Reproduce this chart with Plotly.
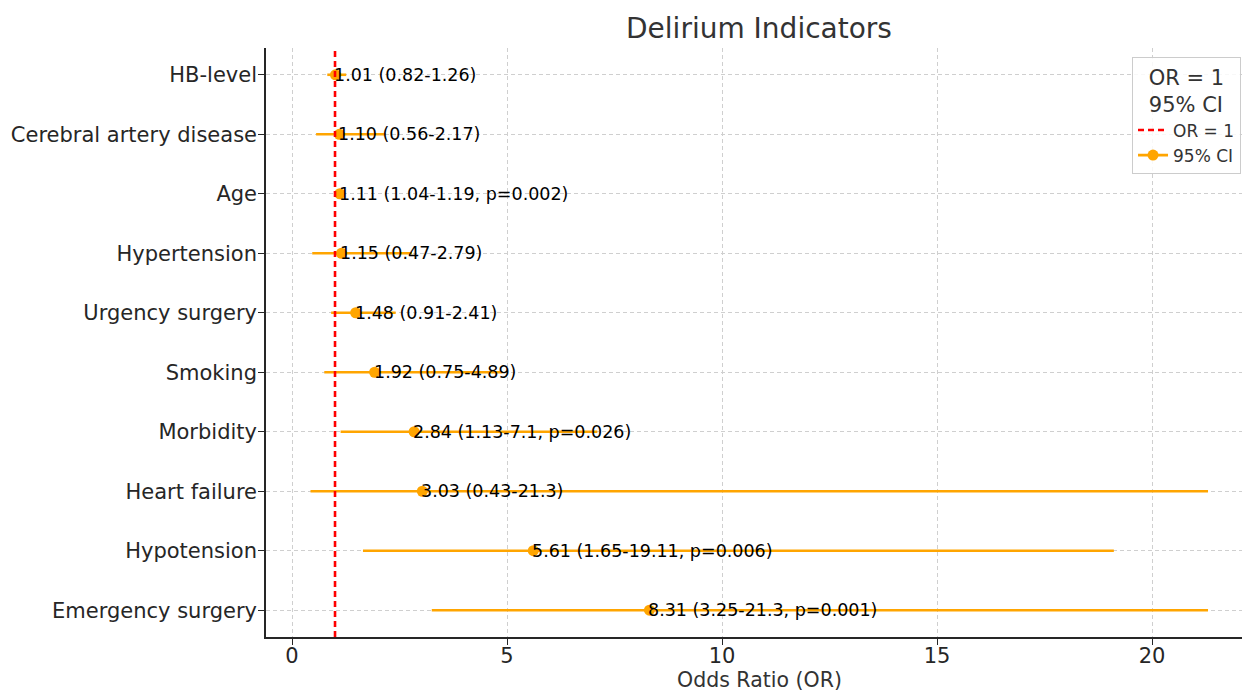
import plotly.graph_objects as go

categories = ["HB-level", "Cerebral artery disease", "Age", "Hypertension", "Urgency surgery",
              "Smoking", "Morbidity", "Heart failure", "Hypotension", "Emergency surgery"]
odds = [1.01, 1.10, 1.11, 1.15, 1.48, 1.92, 2.84, 3.03, 5.61, 8.31]
ci_low = [0.82, 0.56, 1.04, 0.47, 0.91, 0.75, 1.13, 0.43, 1.65, 3.25]
ci_high = [1.26, 2.17, 1.19, 2.79, 2.41, 4.89, 7.1, 21.3, 19.11, 21.3]
labels = ["1.01 (0.82-1.26)", "1.10 (0.56-2.17)", "1.11 (1.04-1.19, p=0.002)", "1.15 (0.47-2.79)",
          "1.48 (0.91-2.41)", "1.92 (0.75-4.89)", "2.84 (1.13-7.1, p=0.026)", "3.03 (0.43-21.3)",
          "5.61 (1.65-19.11, p=0.006)", "8.31 (3.25-21.3, p=0.001)"]
x_ticks = [0, 5, 10, 15, 20]

FONT = "DejaVu Sans"
ORANGE = "#FFA500"
TXT = "#262626"

fig = go.Figure()

fig.add_trace(go.Scatter(
    x=odds, y=categories, mode="markers",
    marker=dict(color=ORANGE, size=11),
    error_x=dict(type="data", symmetric=False,
                 array=[h - o for h, o in zip(ci_high, odds)],
                 arrayminus=[o - l for o, l in zip(odds, ci_low)],
                 color=ORANGE, thickness=2.6, width=0),
    showlegend=False, hoverinfo="skip"))

# reference line at OR = 1
fig.add_vline(x=1, line=dict(color="red", width=2.6, dash="6px,4px"), layer="above")

# legend entries
fig.add_trace(go.Scatter(x=[None], y=[None], mode="lines", name="OR = 1",
                         line=dict(color="red", width=2.6, dash="6px,4px")))
fig.add_trace(go.Scatter(x=[None], y=[None], mode="lines+markers", name="95% CI",
                         line=dict(color=ORANGE, width=2.6),
                         marker=dict(color=ORANGE, size=11)))

for c, o, t in zip(categories, odds, labels):
    fig.add_annotation(x=o, y=c, text=t, showarrow=False, xanchor="left", yanchor="middle",
                       xshift=-3, font=dict(family=FONT, size=17.5, color="black"))

# x axis title placed explicitly
fig.add_annotation(text="Odds Ratio (OR)", xref="paper", yref="paper",
                   x=(759 - 266) / 976, y=-(680 - 637) / 589, xanchor="center", yanchor="middle",
                   showarrow=False, font=dict(family=FONT, size=20.5, color="#333333"))

fig.update_layout(
    width=1242, height=691,
    margin=dict(l=266, r=0, t=48, b=54),
    paper_bgcolor="white", plot_bgcolor="white",
    font=dict(family=FONT, color=TXT),
    title=dict(text="Delirium Indicators", x=(759 / 1242), xanchor="center",
               y=1 - 28 / 691, yanchor="middle",
               font=dict(family=FONT, size=28, color="#333333")),
    legend=dict(title=dict(text="OR = 1<br>95% CI", side="top center",
                           font=dict(family=FONT, size=21, color="#333333")),
                x=0.999, xanchor="right", y=0.985, yanchor="top",
                bordercolor="#cccccc", borderwidth=1, bgcolor="rgba(255,255,255,0.85)",
                tracegroupgap=0,
                font=dict(family=FONT, size=17, color="#333333")),
)

fig.update_xaxes(range=[-0.605, 22.09], tickvals=x_ticks, ticks="outside", ticklen=6,
                 tickcolor=TXT, tickwidth=1.3, ticklabelstandoff=-7,
                 showline=True, linecolor=TXT, linewidth=1.6,
                 showgrid=True, gridcolor="#cfcfcf", griddash="4px,3px", gridwidth=1,
                 zeroline=False, tickfont=dict(family=FONT, size=21, color=TXT))
fig.update_yaxes(categoryorder="array", categoryarray=categories, autorange=False,
                 range=[9.45, -0.45], ticks="outside", ticklen=6,
                 tickcolor=TXT, tickwidth=1.3, ticklabelstandoff=-3,
                 showline=True, linecolor=TXT, linewidth=1.6,
                 showgrid=True, gridcolor="#cfcfcf", griddash="4px,3px", gridwidth=1,
                 tickfont=dict(family=FONT, size=21, color=TXT))

fig.write_html("out.html", config={"displayModeBar": False},
               post_script="document.body.style.margin='0';document.body.style.overflow='hidden';")
